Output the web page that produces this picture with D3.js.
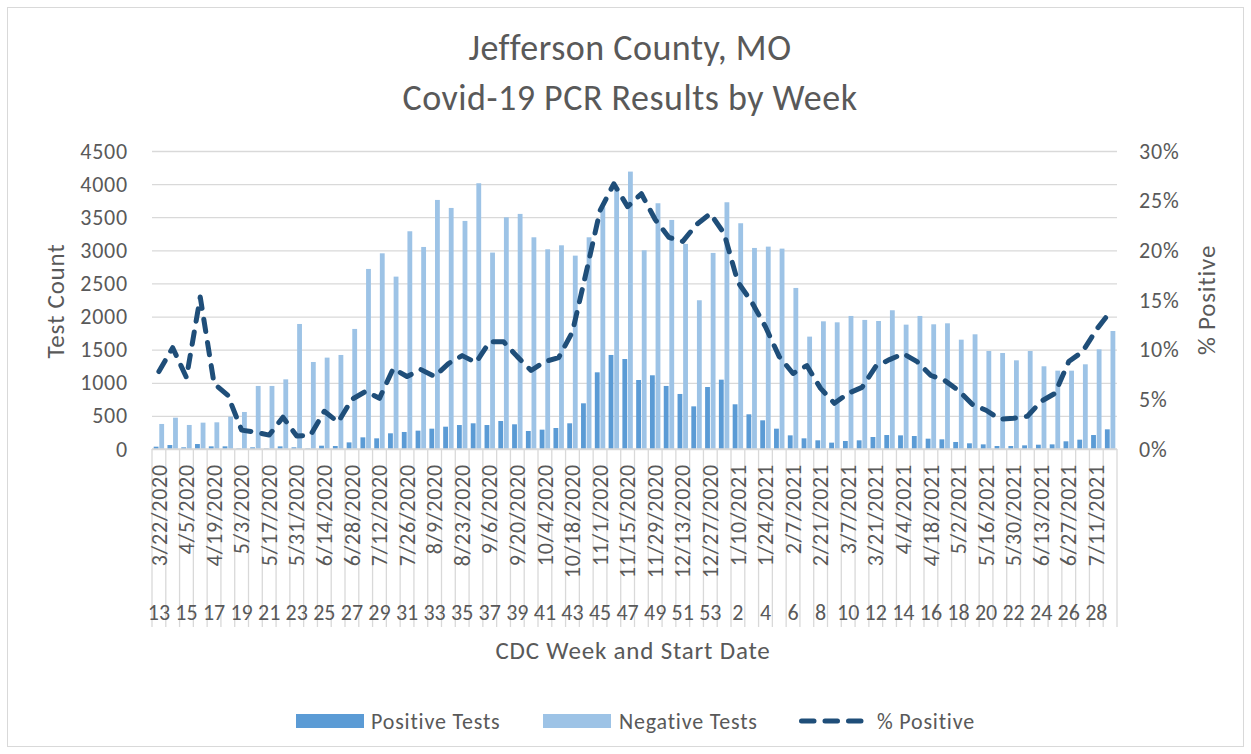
<!DOCTYPE html>
<head>
<meta charset="utf-8">
<script src="https://d3js.org/d3.v7.min.js"></script>
<style>
body { margin: 0; background: #fff; }
text { font-family: Carlito, Calibri, Lato, sans-serif; fill: #595959; letter-spacing: 0.8px; }
</style>
</head>
<body>
<svg id="chart"></svg>
<script>

// CDC week + start date for each category
var weeks = [13,14,15,16,17,18,19,20,21,22,23,24,25,26,27,28,29,30,31,32,33,34,35,36,37,38,39,40,
  41,42,43,44,45,46,47,48,49,50,51,52,53,
  1,2,3,4,5,6,7,8,9,10,11,12,13,14,15,16,17,18,19,20,21,22,23,24,25,26,27,28,29];

var startDates = ["3/22/2020","3/29/2020","4/5/2020","4/12/2020","4/19/2020","4/26/2020","5/3/2020",
  "5/10/2020","5/17/2020","5/24/2020","5/31/2020","6/7/2020","6/14/2020","6/21/2020","6/28/2020",
  "7/5/2020","7/12/2020","7/19/2020","7/26/2020","8/2/2020","8/9/2020","8/16/2020","8/23/2020",
  "8/30/2020","9/6/2020","9/13/2020","9/20/2020","9/27/2020","10/4/2020","10/11/2020","10/18/2020",
  "10/25/2020","11/1/2020","11/8/2020","11/15/2020","11/22/2020","11/29/2020","12/6/2020",
  "12/13/2020","12/20/2020","12/27/2020","1/3/2021","1/10/2021","1/17/2021","1/24/2021","1/31/2021",
  "2/7/2021","2/14/2021","2/21/2021","2/28/2021","3/7/2021","3/14/2021","3/21/2021","3/28/2021",
  "4/4/2021","4/11/2021","4/18/2021","4/25/2021","5/2/2021","5/9/2021","5/16/2021","5/23/2021",
  "5/30/2021","6/6/2021","6/13/2021","6/20/2021","6/27/2021","7/4/2021","7/11/2021","7/18/2021"];

var positiveTests = [35,60,25,75,40,40,8,25,8,40,25,8,50,45,100,176,161,237,257,277,307,337,362,
  388,362,423,373,272,292,317,388,690,1158,1420,1359,1042,1113,952,831,644,936,
  1047,675,524,433,307,206,161,131,96,121,131,181,211,206,196,156,146,106,86,70,45,45,55,65,70,116,141,211,297];

var negativeTests = [378,473,363,398,403,488,559,952,952,1052,1888,1314,1380,1420,1813,2719,2955,2603,
  3288,3051,3761,3640,3444,4013,2966,3499,3550,3197,3016,3076,2920,3197,3650,3950,4189,3001,3711,
  3459,3097,2246,2961,3726,3409,3036,3056,3026,2432,1697,1928,1913,2009,1949,1933,2095,1878,2009,
  1883,1898,1651,1732,1480,1450,1339,1480,1249,1183,1183,1279,1505,1782];

var pctPositive = [7.8,10.2,7.2,15.3,6.6,5.4,1.9,1.7,1.4,3.2,1.3,1.4,3.8,2.7,5.0,5.8,5.1,8.1,7.3,8.0,
  7.3,8.6,9.4,8.7,10.8,10.8,9.3,7.9,8.8,9.2,11.8,17.8,24.0,26.7,24.4,25.7,23.1,21.3,20.9,22.6,23.7,
  21.7,16.8,14.8,12.3,9.3,7.6,8.4,6.1,4.6,5.6,6.2,8.3,9.0,9.6,8.8,7.4,6.9,5.9,4.5,3.9,3.0,3.1,3.3,
  4.8,5.6,8.8,9.8,12.0,13.8];

var countTicks = [0,500,1000,1500,2000,2500,3000,3500,4000,4500];
var pctTicks = [0,5,10,15,20,25,30];

// chart parameters
var width = 1251, height = 754;
var plot = { left: 152, right: 1117, top: 151, bottom: 449 };
var gridColor = "#d9d9d9",
    posColor = "#5b9bd5",
    negColor = "#9dc3e6",
    lineColor = "#1f4e79";
var labelSize = "22px", titleSize = "25px";

var svg = d3.select("#chart")
    .attr("width", width)
    .attr("height", height);

// outer chart border
svg.append("rect")
    .attr("x", 7.5).attr("y", 7.5)
    .attr("width", 1236).attr("height", 739)
    .attr("fill", "#fff")
    .attr("stroke", gridColor);

var x = d3.scaleBand().domain(startDates).range([plot.left, plot.right]).padding(0);
var x1 = d3.scaleBand().domain(["pos", "neg"]).range([0, x.bandwidth()])
    .paddingInner(0.14).paddingOuter(0.3);
var y = d3.scaleLinear().domain([0, 4500]).range([plot.bottom, plot.top]);
var yPct = d3.scaleLinear().domain([0, 30]).range([plot.bottom, plot.top]);

// gridlines
svg.append("g")
    .attr("transform", `translate(${plot.left},0)`)
    .call(d3.axisLeft(y).tickValues(countTicks).tickSize(-(plot.right - plot.left)).tickFormat(""))
    .call(g => g.select(".domain").remove())
    .call(g => g.selectAll("line").attr("stroke", gridColor).attr("stroke-width", 1.3));

// left axis labels
svg.append("g")
    .attr("transform", `translate(${plot.left},0)`)
    .call(d3.axisLeft(y).tickValues(countTicks).tickSize(0).tickPadding(24).tickFormat(d3.format("d")))
    .call(g => g.select(".domain").remove())
    .call(g => g.selectAll("text").style("font-size", labelSize).attr("fill", "#595959"));

// right axis labels
svg.append("g")
    .attr("transform", `translate(${plot.right},0)`)
    .call(d3.axisRight(yPct).tickValues(pctTicks).tickSize(0).tickPadding(22).tickFormat(d => d + "%"))
    .call(g => g.select(".domain").remove())
    .call(g => g.selectAll("text").style("font-size", labelSize).attr("fill", "#595959"));

// category separators (multi-level axis)
var bounds = startDates.map(d => x(d)).concat([plot.right]);
svg.append("g").selectAll("line")
    .data(bounds)
    .join("line")
    .attr("x1", d => d).attr("x2", d => d)
    .attr("y1", plot.bottom).attr("y2", 627)
    .attr("stroke", gridColor).attr("stroke-width", 1.3);

// bars
var barData = startDates.map((d, i) => ({ date: d, pos: positiveTests[i], neg: negativeTests[i] }));
var groups = svg.append("g").selectAll("g")
    .data(barData)
    .join("g")
    .attr("transform", d => `translate(${x(d.date)},0)`);

groups.append("rect")
    .attr("x", x1("neg"))
    .attr("width", x1.bandwidth())
    .attr("y", d => y(d.neg))
    .attr("height", d => y(0) - y(d.neg))
    .attr("fill", negColor);

groups.append("rect")
    .attr("x", x1("pos"))
    .attr("width", x1.bandwidth())
    .attr("y", d => y(d.pos))
    .attr("height", d => y(0) - y(d.pos))
    .attr("fill", posColor);

// axis base line
svg.append("line")
    .attr("x1", plot.left).attr("x2", plot.right)
    .attr("y1", plot.bottom).attr("y2", plot.bottom)
    .attr("stroke", gridColor).attr("stroke-width", 1.3);

// % positive line
var line = d3.line()
    .x((d, i) => x(startDates[i]) + x.bandwidth() / 2)
    .y(d => yPct(d));

svg.append("path")
    .datum(pctPositive)
    .attr("d", line)
    .attr("fill", "none")
    .attr("stroke", lineColor)
    .attr("stroke-width", 5)
    .attr("stroke-linecap", "round")
    .attr("stroke-linejoin", "round")
    .attr("stroke-dasharray", "12.5 11");

// category labels, every other one
var labelIdx = startDates.map((d, i) => i).filter(i => i % 2 == 0);

svg.append("g").selectAll("text")
    .data(labelIdx)
    .join("text")
    .attr("transform", i => `translate(${x(startDates[i]) + x.bandwidth() / 2},464) rotate(-90)`)
    .attr("text-anchor", "end")
    .attr("dy", "0.35em")
    .style("font-size", labelSize)
    .text(i => startDates[i]);

svg.append("g").selectAll("text")
    .data(labelIdx)
    .join("text")
    .attr("x", i => x(startDates[i]) + x.bandwidth() / 2)
    .attr("y", 620)
    .attr("text-anchor", "middle")
    .style("font-size", labelSize)
    .style("letter-spacing", "0px")
    .text(i => weeks[i]);

// titles
svg.append("text")
    .attr("x", 630).attr("y", 60)
    .attr("text-anchor", "middle")
    .style("font-size", "36px")
    .style("letter-spacing", "0.5px")
    .text("Jefferson County, MO");
svg.append("text")
    .attr("x", 630).attr("y", 110)
    .attr("text-anchor", "middle")
    .style("font-size", "36px")
    .style("letter-spacing", "0.5px")
    .text("Covid-19 PCR Results by Week");

svg.append("text")
    .attr("x", 633).attr("y", 659)
    .attr("text-anchor", "middle")
    .style("font-size", titleSize)
    .text("CDC Week and Start Date");

svg.append("text")
    .attr("transform", "translate(55,301) rotate(-90)")
    .attr("text-anchor", "middle")
    .attr("dy", "0.35em")
    .style("font-size", titleSize)
    .text("Test Count");

svg.append("text")
    .attr("transform", "translate(1206,300) rotate(-90)")
    .attr("text-anchor", "middle")
    .attr("dy", "0.35em")
    .style("font-size", titleSize)
    .text("% Positive");

// legend
var legend = svg.append("g");
legend.append("rect").attr("x", 296).attr("y", 714).attr("width", 68).attr("height", 14).attr("fill", posColor);
legend.append("text").attr("x", 371).attr("y", 729).style("font-size", labelSize).text("Positive Tests");
legend.append("rect").attr("x", 543).attr("y", 714).attr("width", 68).attr("height", 14).attr("fill", negColor);
legend.append("text").attr("x", 619).attr("y", 729).style("font-size", labelSize).text("Negative Tests");
legend.append("line")
    .attr("x1", 801.5).attr("x2", 861).attr("y1", 721).attr("y2", 721)
    .attr("stroke", lineColor).attr("stroke-width", 5)
    .attr("stroke-linecap", "round").attr("stroke-dasharray", "12.5 11");
legend.append("text").attr("x", 877).attr("y", 729).style("font-size", labelSize).text("% Positive");

</script>
</body>
